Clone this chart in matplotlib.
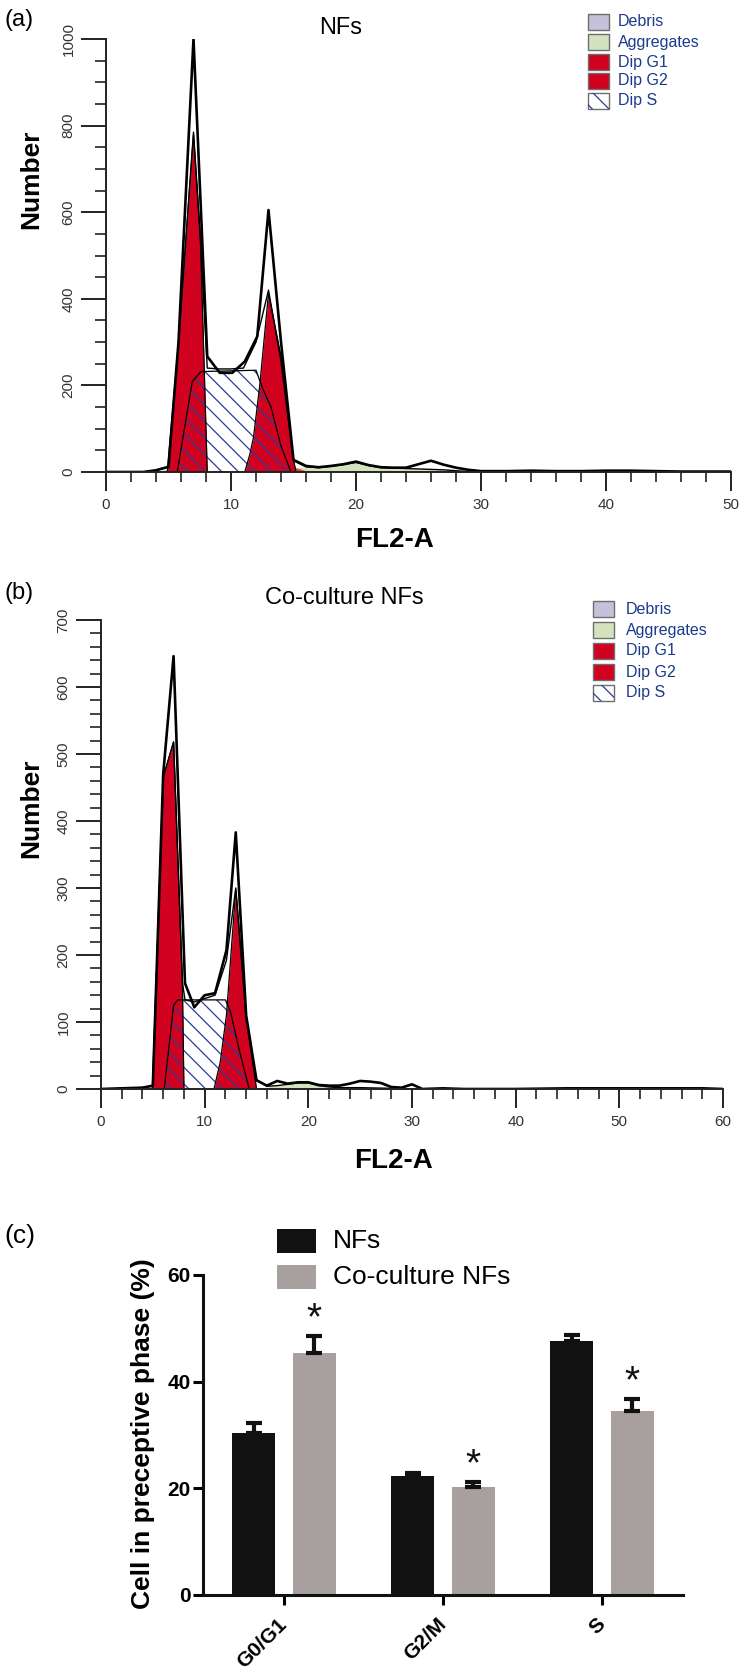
import matplotlib
matplotlib.use("Agg")

import numpy as np
import matplotlib.pyplot as plt
import matplotlib.transforms as mtransforms
from matplotlib.patches import Rectangle
from matplotlib.ticker import MultipleLocator

# ---- panel (a): NFs histogram (FL2-A channel vs count) ----
a_x_data = [0, 3, 4, 5, 5.8, 7, 8.1, 9.1, 10.1, 11.1, 12.1, 13, 14, 15, 16, 17, 18, 19, 20,
            21, 22, 23, 24, 25, 26, 27, 28, 29, 30, 32, 34, 36, 38, 40, 42, 44, 46, 48, 50]
a_y_data = [0, 0, 4, 12, 300, 1000, 267, 229, 229, 255, 313, 605, 300, 28, 14, 11, 14, 18, 24,
            16, 11, 10, 10, 18, 26, 17, 10, 5, 2, 2, 3, 2, 2, 3, 3, 2, 1, 1, 1]
a_x_fit = [0, 3, 4, 5, 5.8, 7, 7.55, 8.1, 9, 10, 11, 12, 13, 14, 15, 16, 17, 18, 19, 20,
           21, 22, 23, 24, 25, 26, 27, 28, 29, 30, 50]
a_y_fit = [0, 0, 4, 12, 298, 785, 540, 240, 238, 238, 240, 300, 420, 255, 26, 12, 10, 13, 17, 22,
           15, 10, 9, 8, 7, 6, 5, 3, 1, 0, 0]
a_x_g1 = [4.9, 5.8, 7, 7.55, 8.1]
a_y_g1 = [0, 298, 780, 540, 0]
a_x_g2 = [11.1, 11.5, 11.8, 12.3, 13, 14.1, 15, 15.2]
a_y_g2 = [0, 40, 80, 200, 413, 252, 28, 0]
a_x_s = [5.7, 6.9, 7.6, 12.0, 12.5, 13.2, 14.0, 14.8]
a_y_s = [0, 209, 232, 235, 195, 150, 60, 0]
a_x_deb = [3, 4, 5, 6, 7, 8]
a_y_deb = [0, 3, 6, 5, 3, 0]
a_x_agg = [14, 15, 16, 17, 18, 19, 20, 21, 22, 23, 24, 25, 26, 27, 28, 29, 30]
a_y_agg = [0, 8, 12, 11, 13, 17, 22, 15, 10, 9, 8, 7, 6, 5, 3, 1, 0]
a_x_agg2 = [12.1, 13, 14, 15, 16.3]
a_y_agg2 = [0, 10, 20, 12, 0]

# ---- panel (b): Co-culture NFs histogram ----
b_x_data = [0, 4, 5, 6, 7, 8.1, 9, 10, 11, 12.1, 13, 14, 15, 16, 17, 18, 19, 20, 21, 22, 23,
            24, 25, 26, 27, 28, 29, 30, 31, 33, 35, 40, 45, 48, 54, 58, 60]
b_y_data = [0, 2, 5, 470, 646, 158, 122, 140, 143, 207, 383, 110, 13, 5, 12, 8, 10, 10, 6, 5, 5,
            8, 12, 11, 9, 3, 2, 7, 0, 1, 0, 0, 1, 1, 1, 1, 0]
b_x_fit = [0, 4, 5, 6, 7, 7.85, 8.1, 9, 10, 11, 12.1, 13, 14, 15, 16, 17, 18, 19, 20, 21, 22,
           23, 25, 28, 30, 60]
b_y_fit = [0, 2, 5, 465, 518, 160, 133, 130, 135, 140, 192, 300, 105, 14, 4, 5, 7, 9, 9, 5, 3,
           2, 2, 1, 0, 0]
b_x_g1 = [4.95, 6.0, 7.0, 7.85, 8.0]
b_y_g1 = [0, 465, 518, 160, 0]
b_x_g2 = [10.9, 11.5, 12.1, 13.0, 14.0, 15.0]
b_y_g2 = [0, 40, 110, 298, 110, 0]
b_x_s = [6.1, 7.0, 7.4, 12.0, 12.5, 13.3, 14.3]
b_y_s = [0, 125, 133, 133, 115, 60, 0]
b_x_deb = [3, 4, 5, 6, 7]
b_y_deb = [0, 2, 4, 3, 0]
b_x_agg = [15, 16, 17, 18, 19, 20, 21, 22, 23, 25, 28, 30]
b_y_agg = [0, 3, 5, 7, 9, 9, 5, 3, 2, 2, 1, 0]
b_x_agg2 = [12.1, 13.5, 15]
b_y_agg2 = [0, 10, 0]

legend_names = ["Debris", "Aggregates", "Dip G1", "Dip G2", "Dip S"]

# ---- panel (c): cell cycle distribution ----
phases = ["G0/G1", "G2/M", "S"]
nfs_mean = [30.3, 22.3, 47.6]
nfs_err = [1.9, 0.6, 1.2]
co_mean = [45.4, 20.3, 34.5]
co_err = [3.2, 0.9, 2.2]
significant = [True, True, True]

RED = "#d0021f"
LAV = "#c4c1dc"
GRN = "#d2e3bd"
ORG = "#e0502e"
TXT_BLUE = "#1b3a8c"
HATCH_BLUE = "#2a3c96"

plt.rcParams["font.family"] = ["Liberation Sans", "DejaVu Sans"]
plt.rcParams["hatch.linewidth"] = 0.9

fig = plt.figure(figsize=(7.5, 16.75), dpi=100)
W, H = 750.0, 1675.0


def fx(x):
    return x / W


def fy(y):
    return 1 - y / H


def flow_panel(rect, xmax, ymax, ymaj, ymin, xd, yd, xf, yf, g1, g2, s, deb, agg, agg2):
    ax = fig.add_axes(rect)
    ax.fill_between(deb[0], deb[1], color=LAV, lw=0)
    ax.fill_between(agg[0], agg[1], color=GRN, lw=0)
    ax.fill_between(agg2[0], agg2[1], color=ORG, lw=0)
    ax.fill_between(g1[0], g1[1], color=RED, lw=0)
    ax.fill_between(g2[0], g2[1], color=RED, lw=0)
    ax.fill_between(s[0], s[1], facecolor="none", edgecolor=HATCH_BLUE, hatch="\\\\", lw=0)
    for xs, ys in (g1, g2, s):
        ax.plot(xs, ys, color="black", lw=0.9)
    ax.plot(xf, yf, color="black", lw=1.0)
    ax.plot(xd, yd, color="black", lw=1.9)

    ax.set_xlim(0, xmax)
    ax.set_ylim(0, ymax)
    for sp in ("top", "right"):
        ax.spines[sp].set_visible(False)
    for sp in ("left", "bottom"):
        ax.spines[sp].set_linewidth(1.4)
        ax.spines[sp].set_color("#222222")
    ax.xaxis.set_major_locator(MultipleLocator(10))
    ax.xaxis.set_minor_locator(MultipleLocator(2))
    ax.yaxis.set_major_locator(MultipleLocator(ymaj))
    ax.yaxis.set_minor_locator(MultipleLocator(ymin))
    ax.tick_params(axis="x", which="major", length=14, width=1.4, color="#222222",
                   labelsize=11, pad=5, labelcolor="#333333")
    ax.tick_params(axis="x", which="minor", length=7, width=1.2, color="#222222")
    ax.tick_params(axis="y", which="major", length=18, width=1.4, color="#222222",
                   labelsize=11, pad=4, labelcolor="#333333", labelrotation=90)
    ax.tick_params(axis="y", which="minor", length=8, width=1.2, color="#222222")
    for lab in ax.get_yticklabels():
        lab.set_va("center")
    return ax


def flow_legend(x_box, x_txt, y_rows):
    colors = [LAV, GRN, RED, RED, "white"]
    for name, c, yc in zip(legend_names, colors, y_rows):
        r = Rectangle((fx(x_box), fy(yc + 8)), 21 / W, 16 / H, transform=fig.transFigure,
                      facecolor=c, edgecolor="#6e6e6e", lw=1.0)
        fig.add_artist(r)
        if name == "Dip S":
            rh = Rectangle((fx(x_box), fy(yc + 8)), 21 / W, 16 / H, transform=fig.transFigure,
                           facecolor="none", edgecolor=HATCH_BLUE, hatch="\\\\", lw=0)
            fig.add_artist(rh)
        fig.text(fx(x_txt), fy(yc), name, color=TXT_BLUE, fontsize=11.5, va="center", ha="left")


# panel (a)
ax1 = flow_panel([fx(106), fy(472), 625 / W, 433 / H], 50, 1000, 200, 50,
                 a_x_data, a_y_data, a_x_fit, a_y_fit,
                 (a_x_g1, a_y_g1), (a_x_g2, a_y_g2), (a_x_s, a_y_s),
                 (a_x_deb, a_y_deb), (a_x_agg, a_y_agg), (a_x_agg2, a_y_agg2))
fig.text(fx(4), fy(20), "(a)", fontsize=17, va="center", ha="left")
fig.text(fx(341), fy(28), "NFs", fontsize=17, va="center", ha="center")
fig.text(fx(31), fy(179), "Number", fontsize=19, fontweight="bold", rotation=90,
         va="center", ha="center")
fig.text(fx(395), fy(540), "FL2-A", fontsize=20, fontweight="bold", va="center", ha="center")
flow_legend(588, 618, [22, 42, 62, 81, 101])

# panel (b)
ax2 = flow_panel([fx(101), fy(1089), 622 / W, 469 / H], 60, 700, 100, 20,
                 b_x_data, b_y_data, b_x_fit, b_y_fit,
                 (b_x_g1, b_y_g1), (b_x_g2, b_y_g2), (b_x_s, b_y_s),
                 (b_x_deb, b_y_deb), (b_x_agg, b_y_agg), (b_x_agg2, b_y_agg2))
fig.text(fx(4), fy(593), "(b)", fontsize=17, va="center", ha="left")
fig.text(fx(344), fy(598), "Co-culture NFs", fontsize=17, va="center", ha="center")
fig.text(fx(31), fy(808), "Number", fontsize=19, fontweight="bold", rotation=90,
         va="center", ha="center")
fig.text(fx(393), fy(1161), "FL2-A", fontsize=20, fontweight="bold", va="center", ha="center")
flow_legend(593, 626, [609, 630, 651, 672, 693])

# panel (c)
ax3 = fig.add_axes([fx(203), fy(1595), 480 / W, 320 / H])
pos = np.arange(len(phases))
off, bw = 0.19, 0.27
ax3.bar(pos - off, nfs_mean, bw, color="#111111")
ax3.bar(pos + off, co_mean, bw, color="#a89f9f")
ax3.errorbar(pos - off, nfs_mean, yerr=[np.zeros(3), nfs_err], fmt="none", ecolor="#111111",
             elinewidth=3, capsize=6, capthick=3)
ax3.errorbar(pos + off, co_mean, yerr=[np.zeros(3), co_err], fmt="none", ecolor="#111111",
             elinewidth=3, capsize=6, capthick=3)
for i in range(len(phases)):
    if significant[i]:
        ax3.text(pos[i] + off, co_mean[i] + co_err[i] + 1.3, "*", ha="center", va="baseline",
                 fontsize=28, color="#111111")

ax3.set_xlim(-0.51, 2.51)
ax3.set_ylim(0, 60)
for sp in ("top", "right"):
    ax3.spines[sp].set_visible(False)
for sp in ("left", "bottom"):
    ax3.spines[sp].set_linewidth(2.2)
    ax3.spines[sp].set_color("#111111")
ax3.set_yticks([0, 20, 40, 60])
ax3.set_xticks(pos)
ax3.set_xticklabels(phases, rotation=45, ha="right", va="center", rotation_mode="anchor",
                    fontsize=15, fontweight="bold")
shift = mtransforms.ScaledTranslation(-4 / 100, 0, fig.dpi_scale_trans)
for lab in ax3.get_xticklabels():
    lab.set_transform(lab.get_transform() + shift)
ax3.tick_params(axis="y", length=7, width=2.2, labelsize=15, pad=2)
ax3.tick_params(axis="x", length=7, width=2.2, pad=12)
for lab in ax3.get_yticklabels():
    lab.set_fontweight("bold")
fig.text(fx(143), fy(1434), "Cell in preceptive phase (%)", fontsize=19, fontweight="bold",
         rotation=90, va="center", ha="center")
fig.text(fx(4), fy(1236), "(c)", fontsize=19, va="center", ha="left")

for yc, c, name in ((1241, "#111111", "NFs"), (1277, "#a89f9f", "Co-culture NFs")):
    fig.add_artist(Rectangle((fx(277), fy(yc + 12)), 39 / W, 24 / H,
                             transform=fig.transFigure, facecolor=c, lw=0))
    fig.text(fx(333), fy(yc), name, fontsize=19, va="center", ha="left")

fig.savefig("out.png", dpi=100)
